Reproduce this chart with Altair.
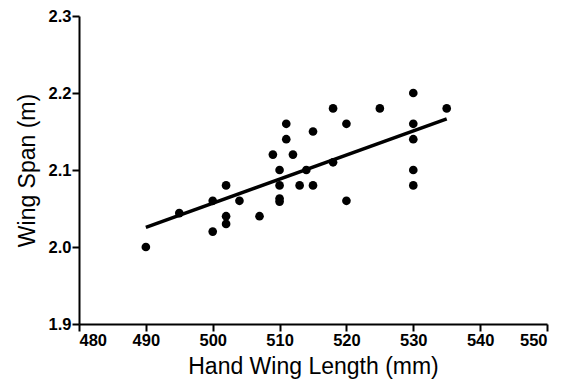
import altair as alt
import pandas as pd

# Hand wing length (mm) and wing span (m) for each bird
hand_wing_mm = [490, 495, 500, 500, 502, 502, 502, 504, 507, 509, 510, 510, 510, 510,
                511, 511, 512, 513, 514, 515, 515, 518, 518, 520, 520, 525,
                530, 530, 530, 530, 530, 535]
wing_span_m = [2.00, 2.044, 2.06, 2.02, 2.08, 2.04, 2.03, 2.06, 2.04, 2.12, 2.10, 2.08, 2.063, 2.059,
               2.16, 2.14, 2.12, 2.08, 2.10, 2.15, 2.08, 2.18, 2.11, 2.16, 2.06, 2.18,
               2.20, 2.16, 2.14, 2.10, 2.08, 2.18]

# End points of the fitted trend line
fit_x = [490, 535]
fit_y = [2.0255, 2.1665]

x_ticks = [480, 490, 500, 510, 520, 530, 540, 550]
y_ticks = [1.9, 2.0, 2.1, 2.2, 2.3]

df = pd.DataFrame({"hwl": hand_wing_mm, "span": wing_span_m})
df_fit = pd.DataFrame({"hwl": fit_x, "span": fit_y})

FONT = "Liberation Sans"

x_enc = alt.X(
    "hwl:Q",
    scale=alt.Scale(domain=[480, 550], nice=False, zero=False),
    axis=alt.Axis(
        title="Hand Wing Length (mm)", values=x_ticks, format="d",
        grid=False, domainWidth=2, domainColor="black", tickColor="black",
        tickWidth=2, tickSize=7, labelFont=FONT, labelFontWeight="bold",
        labelFontSize=16.5, labelColor="black", labelPadding=1,
        titleFont=FONT, titleFontSize=23, titleFontWeight="normal",
        titleColor="black", titlePadding=7,
    ),
)
y_enc = alt.Y(
    "span:Q",
    scale=alt.Scale(domain=[1.9, 2.3], nice=False, zero=False),
    axis=alt.Axis(
        title="Wing Span (m)", values=y_ticks, format=".1f",
        grid=False, domainWidth=2, domainColor="black", tickColor="black",
        tickWidth=2, tickSize=7, labelFont=FONT, labelFontWeight="bold",
        labelFontSize=16.5, labelColor="black", labelPadding=1,
        titleFont=FONT, titleFontSize=23, titleFontWeight="normal",
        titleColor="black", titlePadding=9,
    ),
)

points = alt.Chart(df).mark_circle(size=75, color="black", opacity=1).encode(x=x_enc, y=y_enc)

fit = (
    alt.Chart(df_fit)
    .mark_line(color="black", strokeWidth=3.5)
    .encode(x=x_enc, y=y_enc)
)

chart = (
    alt.layer(fit, points)
    .properties(
        width=468, height=308,
        autosize=alt.AutoSizeParams(type="none"),
        padding={"left": 79, "top": 16, "right": 24, "bottom": 57},
        background="white",
    )
    .configure_view(stroke=None)
)

chart.save("out.html", embed_options={"renderer": "svg", "actions": False})
